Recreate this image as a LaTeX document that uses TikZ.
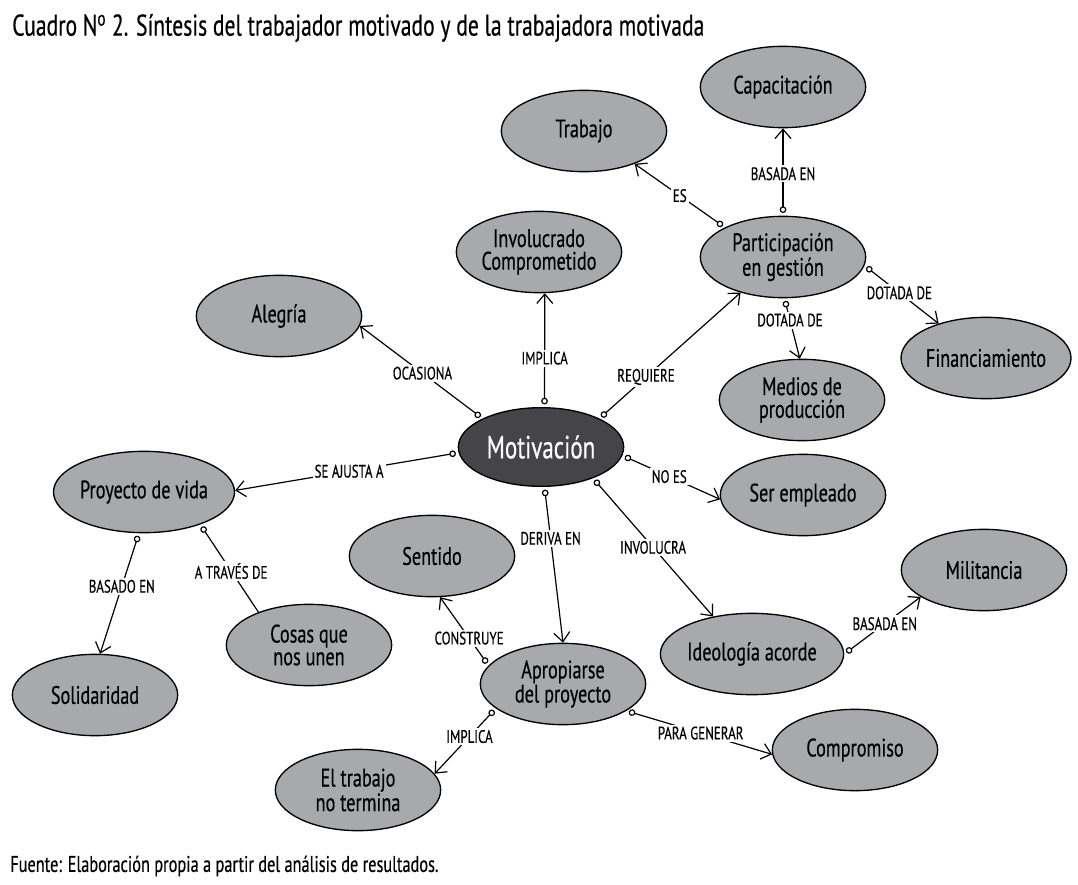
\documentclass[tikz,border=0pt]{standalone}
\usepackage{fontspec}
\setmainfont{PT Sans}[FakeStretch=0.72,FakeBold=0.4]
\usetikzlibrary{shapes.geometric,arrows.meta}
\definecolor{grisnodo}{RGB}{168,169,172}
\definecolor{grisoscuro}{RGB}{69,69,73}

\begin{document}
\begin{tikzpicture}[x=0.75pt,y=-0.75pt]
\useasboundingbox (0,0) rectangle (1078,885);
\node[anchor=west,inner sep=0pt,font=\fontsize{22.5}{24}\selectfont] (titulo) at (12,28) {Cuadro N\textsuperscript{o} 2. Síntesis del trabajador motivado y de la trabajadora motivada};
\node[anchor=west,inner sep=0pt,font=\fontsize{17}{19}\selectfont] (fuente) at (10,866) {Fuente: Elaboración propia a partir del análisis de resultados.};
\begin{scope}[every node/.style={ellipse,draw,line width=1pt,fill=grisnodo,inner sep=0pt,
    minimum width=124pt,minimum height=61pt,align=center,font=\fontsize{19}{17}\selectfont}]
    \node (mot) at (541,447) [fill=grisoscuro,text=white,minimum height=59pt,
        font=\fontsize{24}{26}\selectfont] {Motivación};
    \node (capa) at (783,87) {Capacitación};
    \node (trab) at (584,131) {Trabajo};
    \node (invo) at (539,252) {Involucrado\\Comprometido};
    \node (part) at (783,257) {Participación\\en gestión};
    \node (aleg) at (279,316) {Alegría};
    \node (fina) at (986,358) {Financiamiento};
    \node (medi) at (802,400) {Medios de\\producción};
    \node (proy) at (144,492) {Proyecto de vida};
    \node (empl) at (803,495) {Ser empleado};
    \node (sent) at (432,556) {Sentido};
    \node (mili) at (984,570) {Militancia};
    \node (cosa) at (309,645) {Cosas que\\nos unen};
    \node (ideo) at (752,654) {Ideología acorde};
    \node (apro) at (563,684) {Apropiarse\\del proyecto};
    \node (soli) at (95,695) {Solidaridad};
    \node (comp) at (855,750) {Compromiso};
    \node (term) at (358,790) {El trabajo\\no termina};
\end{scope}
\begin{scope}[
    every node/.style={fill=white,inner sep=1.5pt,font=\fontsize{13.5}{15}\selectfont},
    every edge/.style={draw=black,line width=0.9pt,shorten <=2pt,
        arrows={Circle[open,length=5pt]-Straight Barb[length=7pt,width=12pt]}}]
    \path (mot.154) edge node[pos=.49] {OCASIONA} (aleg.-7);
    \path (mot.85) edge node[pos=.43] {IMPLICA} (invo.-82);
    \path (mot.26) edge node[pos=.33] {REQUIERE} (part.-140);
    \path (mot.184) edge node[pos=.49] {SE AJUSTA A} (proy.1);
    \path (mot.-6) edge node[pos=.48] {NO ES} (empl.183);
    \path (mot.-85) edge node[pos=.33] {DERIVA EN} (apro.90);
    \path (mot.-31) edge node[pos=.5] {INVOLUCRA} (ideo.136);
    \path (part.153) edge node[pos=.5] {ES} (trab.-33);
    \path (part.90) edge node[pos=.48] {BASADA EN} (capa.-90);
    \path (part.-88) edge node[pos=.36] {DOTADA DE} (medi.93);
    \path (part.-6) edge node[pos=.47] {DOTADA DE} (fina.144);
    \path (proy.-97) edge node[pos=.44] {BASADO EN} (soli.83);
    \path (proy.-30) edge[arrows={Circle[open,length=5pt]-}] node[pos=.53] {A TRAVÉS DE} (cosa.147);
    \path (ideo.0) edge node[pos=.53] {BASADA EN} (mili.203);
    \path (apro.166) edge node[pos=.4] {CONSTRUYE} (sent.-79);
    \path (apro.200) edge node[pos=.43] {IMPLICA} (term.12);
    \path (apro.-23) edge node[pos=.51] {PARA GENERAR} (comp.183);
\end{scope}
\end{tikzpicture}
\end{document}
